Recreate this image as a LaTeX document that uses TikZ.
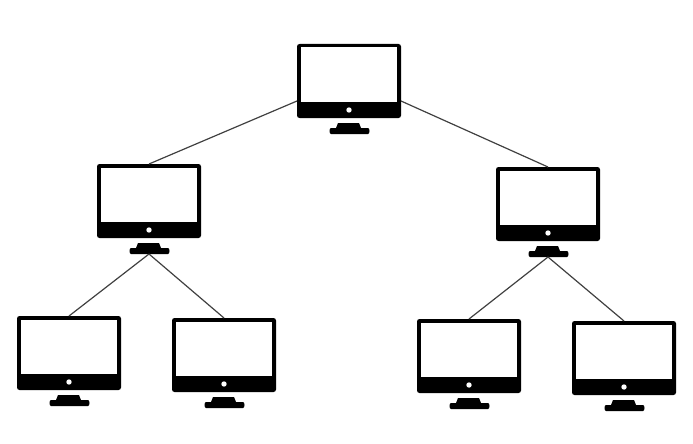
\documentclass[tikz,border=0pt]{standalone}
\tikzset{
  x=1pt,y=-1pt,
  body/.style={fill=black,draw=none,rounded corners=2.5pt,minimum width=104pt,minimum height=74pt,inner sep=0pt,outer sep=0pt,anchor=north west},
  screen/.style={fill=white,draw=none},
  dot/.style={fill=white,draw=none},
  standfill/.style={fill=black,draw=none,line join=round},
  link/.style={draw=black!75,line width=1.2pt}
}
\newcommand{\monitor}[3]{%
  \node[body] (#1) at (#2,#3) {};
  \begin{scope}[shift={(#2,#3)}]
    \fill[screen] (3.7,3.5) rectangle (100.3,58);
    \fill[dot] (52,66) circle (2.7);
    \fill[standfill] (41,79) -- (62,79) -- (64,84) -- (71,84)
      .. controls (73,84) and (73,90) .. (71,90) -- (34,90)
      .. controls (32,90) and (32,84) .. (34,84) -- (39,84) -- cycle;
    \coordinate (#1-foot) at (52,90);
    \coordinate (#1-left) at (0,57);
    \coordinate (#1-right) at (104,57);
    \coordinate (#1-top) at (52,0);
  \end{scope}}
\begin{document}
\begin{tikzpicture}
  \useasboundingbox (0,0) rectangle (693,444);
  \monitor{root}{297}{44}
  \monitor{l}{97}{164}
  \monitor{r}{496}{167}
  \monitor{ll}{17}{316}
  \monitor{lr}{172}{318}
  \monitor{rl}{417}{319}
  \monitor{rr}{572}{321}
  \draw[link] (root-left) -- (l-top);
  \draw[link] (root-right) -- (r-top);
  \draw[link] (l-foot) -- (ll-top);
  \draw[link] (l-foot) -- (lr-top);
  \draw[link] (r-foot) -- (rl-top);
  \draw[link] (r-foot) -- (rr-top);
\end{tikzpicture}
\end{document}
